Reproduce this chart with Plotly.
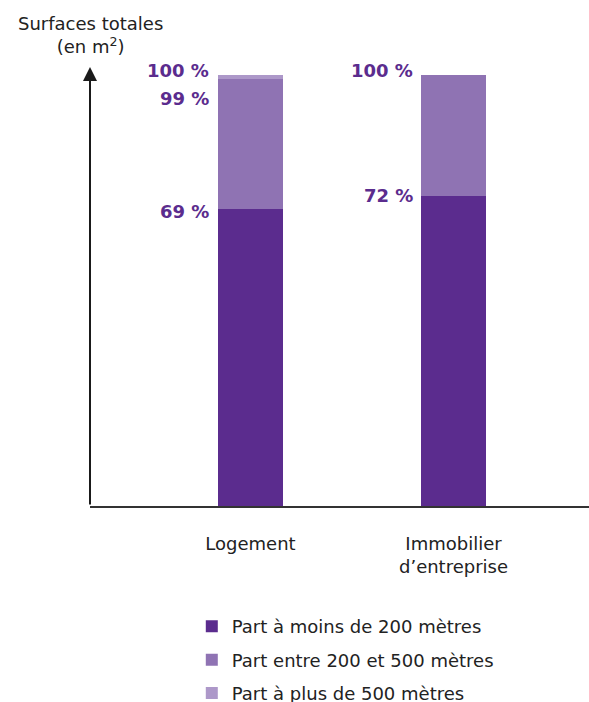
import plotly.graph_objects as go

categories = ["Logement", "Immobilier d'entreprise"]
tick_labels = ["Logement", "Immobilier<br>d\u2019entreprise"]
series_names = ["Part \u00e0 moins de 200 m\u00e8tres", "Part entre 200 et 500 m\u00e8tres", "Part \u00e0 plus de 500 m\u00e8tres"]
moins_200 = [69, 72]
entre_200_500 = [30, 28]
plus_500 = [1, 0]
colors = ["#5b2c8e", "#8f73b3", "#ad98c9"]

FONT = "DejaVu Sans"

fig = go.Figure()
for name, vals, col in zip(series_names, [moins_200, entre_200_500, plus_500], colors):
    fig.add_trace(go.Bar(x=categories, y=vals, name=name, marker=dict(color=col, line=dict(width=0)),
                         width=0.32, legendgroup=name, hoverinfo="skip"))

label_col = "#5b2c8e"
lab_font = dict(family=FONT, size=18, color=label_col)
cum_log = [moins_200[0], moins_200[0] + entre_200_500[0], moins_200[0] + entre_200_500[0] + plus_500[0]]
cum_imm = [moins_200[1], moins_200[1] + entre_200_500[1] + plus_500[1]]
shifts_log = [-3, -19, 5]
for v, s in zip(cum_log, shifts_log):
    fig.add_annotation(x=categories[0], y=v, text=f"<b>{v} %</b>", showarrow=False, xanchor="right",
                       yanchor="middle", xshift=-39, yshift=s, font=lab_font)
shifts_imm = [0, 5]
for v, s in zip(cum_imm, shifts_imm):
    fig.add_annotation(x=categories[1], y=v, text=f"<b>{v} %</b>", showarrow=False, xanchor="right",
                       yanchor="middle", xshift=-39, yshift=s, font=lab_font)

# y axis arrow
fig.add_annotation(xref="paper", yref="paper", x=0, y=1, ax=0, ay=439, axref="pixel", ayref="pixel",
                   showarrow=True, arrowhead=2, arrowsize=1.4, arrowwidth=2, arrowcolor="#1a1a1a", text="")
# axis title
fig.add_annotation(xref="paper", yref="paper", x=0, y=1, yshift=8, text="Surfaces totales<br>(en m<sup>2</sup>)",
                   showarrow=False, xanchor="center", yanchor="bottom", align="center",
                   font=dict(family=FONT, size=18, color="#222222"))

fig.update_layout(
    width=589, height=702,
    margin=dict(l=90, r=0, t=67, b=196, autoexpand=False),
    barmode="stack",
    plot_bgcolor="white", paper_bgcolor="white",
    font=dict(family=FONT, size=18, color="#222222"),
    xaxis=dict(range=[-0.7906, 1.6675], tickmode="array", tickvals=categories, ticktext=tick_labels,
               showline=True, linecolor="#333333", linewidth=2, ticks="", showgrid=False, zeroline=False,
               ticklabelstandoff=20, fixedrange=True),
    yaxis=dict(range=[0, 101.86], showticklabels=False, showgrid=False, zeroline=False, showline=False,
               ticks=""),
    showlegend=True,
    legend=dict(x=0.204, y=-0.2326, xanchor="left", yanchor="top", orientation="v", traceorder="grouped",
                tracegroupgap=7, maxheight=300, font=dict(family=FONT, size=18, color="#222222"),
                bgcolor="rgba(0,0,0,0)"),
    bargap=0,
)
fig.write_html("out.html")
